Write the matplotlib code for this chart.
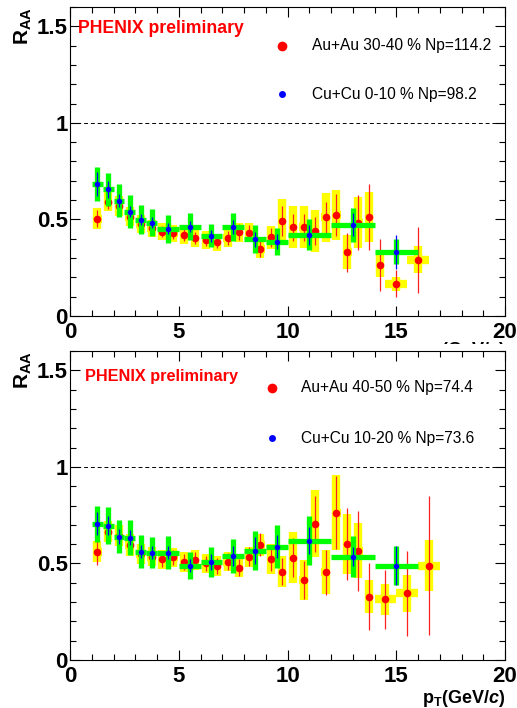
import matplotlib
matplotlib.use('Agg')
import matplotlib.pyplot as plt
from matplotlib.patches import Rectangle
from matplotlib.ticker import MultipleLocator

plt.rcParams['font.family'] = ['Liberation Sans', 'DejaVu Sans']
plt.rcParams['mathtext.fontset'] = 'custom'
plt.rcParams['mathtext.rm'] = 'Liberation Sans'
plt.rcParams['mathtext.it'] = 'Liberation Sans:italic'
plt.rcParams['mathtext.bf'] = 'Liberation Sans:bold'
plt.rcParams['mathtext.bfit'] = 'Liberation Sans:bold:italic'

# ---- top panel : Au+Au 30-40 %  /  Cu+Cu 0-10 %
au_top_x = [1.25, 1.75, 2.25, 2.75, 3.25, 3.75, 4.25, 4.75, 5.25, 5.75, 6.25, 6.75,
            7.25, 7.75, 8.25, 8.75, 9.25, 9.75, 10.25, 10.75, 11.25, 11.75, 12.25,
            12.75, 13.25, 13.75, 14.25, 15.0, 16.0]
au_top_xerr = [0.2] * 27 + [0.5, 0.5]
au_top_y = [0.504, 0.592, 0.570, 0.515, 0.477, 0.454, 0.437, 0.428, 0.420, 0.403, 0.394, 0.382,
            0.403, 0.434, 0.432, 0.347, 0.408, 0.492, 0.460, 0.460, 0.440, 0.510, 0.522,
            0.330, 0.484, 0.513, 0.263, 0.166, 0.290]
au_top_sys = [0.055, 0.05, 0.05, 0.05, 0.045, 0.045, 0.045, 0.045, 0.045, 0.045, 0.045, 0.045,
              0.045, 0.05, 0.05, 0.048, 0.06, 0.115, 0.11, 0.11, 0.108, 0.127, 0.13,
              0.088, 0.13, 0.13, 0.06, 0.036, 0.07]
au_top_stat = [0.045, 0.04, 0.035, 0.035, 0.03, 0.03, 0.03, 0.03, 0.03, 0.03, 0.03, 0.03,
               0.035, 0.04, 0.04, 0.04, 0.05, 0.08, 0.07, 0.07, 0.07, 0.08, 0.11,
               0.10, 0.14, 0.17, 0.135, 0.07, 0.17]

cu_top_x = [1.25, 1.75, 2.25, 2.75, 3.25, 3.75, 4.5, 5.5, 6.5, 7.5, 8.5, 9.5, 11.0, 13.0, 15.0]
cu_top_xerr = [0.25] * 6 + [0.5] * 6 + [1.0] * 3
cu_top_y = [0.682, 0.656, 0.597, 0.540, 0.499, 0.484, 0.452, 0.463, 0.415, 0.461, 0.397,
            0.385, 0.420, 0.472, 0.332]
cu_top_sys = [0.087, 0.085, 0.085, 0.084, 0.074, 0.072, 0.072, 0.069, 0.06, 0.071, 0.073,
              0.069, 0.08, 0.089, 0.065]
cu_top_stat = [0.062, 0.045, 0.035, 0.03, 0.03, 0.03, 0.03, 0.03, 0.03, 0.035, 0.04,
               0.04, 0.05, 0.06, 0.088]

# ---- bottom panel : Au+Au 40-50 %  /  Cu+Cu 10-20 %
au_bot_x = [1.25, 1.75, 2.25, 2.75, 3.25, 3.75, 4.25, 4.75, 5.25, 5.75, 6.25, 6.75,
            7.25, 7.75, 8.25, 8.75, 9.25, 9.75, 10.25, 10.75, 11.25, 11.75, 12.25,
            12.75, 13.25, 13.75, 14.5, 15.5, 16.5]
au_bot_xerr = [0.2] * 26 + [0.5, 0.5, 0.5]
au_bot_y = [0.561, 0.665, 0.643, 0.596, 0.549, 0.535, 0.522, 0.532, 0.508, 0.518, 0.501, 0.487,
            0.509, 0.478, 0.535, 0.596, 0.523, 0.458, 0.530, 0.415, 0.705, 0.454, 0.763,
            0.601, 0.566, 0.328, 0.314, 0.345, 0.489]
au_bot_sys = [0.056, 0.055, 0.055, 0.055, 0.05, 0.05, 0.05, 0.05, 0.05, 0.05, 0.05, 0.05,
              0.05, 0.05, 0.052, 0.055, 0.078, 0.078, 0.132, 0.104, 0.174, 0.114, 0.194,
              0.155, 0.142, 0.086, 0.082, 0.095, 0.13]
au_bot_stat = [0.07, 0.05, 0.045, 0.045, 0.04, 0.04, 0.04, 0.04, 0.04, 0.04, 0.04, 0.04,
               0.045, 0.045, 0.05, 0.06, 0.06, 0.07, 0.10, 0.097, 0.144, 0.117, 0.19,
               0.186, 0.207, 0.174, 0.154, 0.22, 0.36]

cu_bot_x = [1.25, 1.75, 2.25, 2.75, 3.25, 3.75, 4.5, 5.5, 6.5, 7.5, 8.5, 9.5, 11.0, 13.0, 15.0]
cu_bot_xerr = [0.25] * 6 + [0.5] * 6 + [1.0] * 3
cu_bot_y = [0.705, 0.696, 0.639, 0.634, 0.561, 0.556, 0.556, 0.489, 0.508, 0.539, 0.566,
            0.587, 0.618, 0.535, 0.489]
cu_bot_sys = [0.095, 0.097, 0.086, 0.09, 0.084, 0.082, 0.086, 0.072, 0.078, 0.086, 0.10,
              0.11, 0.127, 0.105, 0.099]
cu_bot_stat = [0.06, 0.05, 0.04, 0.04, 0.035, 0.035, 0.035, 0.035, 0.04, 0.05, 0.07,
               0.06, 0.07, 0.05, 0.10]

labels_top = ['Au+Au 30-40 % Np=114.2', 'Cu+Cu 0-10 % Np=98.2']
labels_bot = ['Au+Au 40-50 % Np=74.4', 'Cu+Cu 10-20 % Np=73.6']


def panel(ax, au, cu, labels, leg_pos, phenix_pos, phenix_size, xlab_y):
    ax_, axe, ay, asys, astat = au
    cx, cxe, cy, csys, cstat = cu
    # systematics (yellow), Au+Au points, then Cu+Cu on top
    ax.errorbar(ax_, ay, xerr=axe, yerr=asys, fmt='none', ecolor='#ffff00',
                elinewidth=6, zorder=2)
    ax.errorbar(ax_, ay, yerr=astat, fmt='o', color='#ff0000', ms=5.5, mew=0,
                elinewidth=0.9, ecolor='#ff2020', zorder=3)
    ax.errorbar(cx, cy, xerr=cxe, yerr=csys, fmt='none', ecolor='#00ff00',
                elinewidth=3.8, zorder=4)
    ax.errorbar(cx, cy, yerr=cstat, fmt='o', color='#0000ff', ms=4, mew=0,
                elinewidth=0.9, zorder=5)

    ax.axhline(1.0, color='black', lw=0.7, ls=(0, (4, 3)), zorder=1)

    ax.set_xlim(0, 20)
    ax.set_ylim(0, 1.6)
    ax.xaxis.set_major_locator(MultipleLocator(5))
    ax.xaxis.set_minor_locator(MultipleLocator(1))
    ax.yaxis.set_major_locator(MultipleLocator(0.5))
    ax.yaxis.set_minor_locator(MultipleLocator(0.1))
    ax.set_xticks([0, 5, 10, 15, 20])
    ax.set_xticklabels(['0', '5', '10', '15', '20'])
    ax.set_yticks([0, 0.5, 1.0, 1.5])
    ax.set_yticklabels(['0', '0.5', '1', '1.5'])
    ax.tick_params(which='both', direction='in', top=True, right=True, width=0.8)
    ax.tick_params(which='major', length=7, labelsize=16)
    ax.tick_params(which='minor', length=4)
    ax.tick_params(axis='x', pad=4)
    ax.tick_params(axis='y', pad=1.5)
    for lab in ax.get_xticklabels() + ax.get_yticklabels():
        lab.set_fontweight('bold')
    for s in ax.spines.values():
        s.set_linewidth(0.8)

    ax.text(-0.108, 1.0, r'$\mathbf{R_{AA}}$', transform=ax.transAxes, rotation=90,
            ha='center', va='top', fontsize=15)
    ax.text(1.0, xlab_y, r'$\mathbf{p_{T}(GeV/}\mathbfit{c}\mathbf{)}$',
            transform=ax.transAxes, ha='right', va='top', fontsize=13)

    ax.text(phenix_pos[0], phenix_pos[1], 'PHENIX preliminary', transform=ax.transAxes,
            color='#ff0000', fontweight='bold', fontsize=phenix_size, va='center', ha='left')

    mx, tx, y1, y2 = leg_pos
    ax.plot([mx], [y1], 'o', color='#ff0000', ms=7, mew=0, transform=ax.transAxes,
            clip_on=False)
    ax.plot([mx], [y2], 'o', color='#0000ff', ms=5, mew=0, transform=ax.transAxes,
            clip_on=False)
    ax.text(tx, y1, labels[0], transform=ax.transAxes, fontsize=11.2, va='center')
    ax.text(tx, y2, labels[1], transform=ax.transAxes, fontsize=11.2, va='center')


fig = plt.figure(figsize=(5.17, 7.08), dpi=100)
ax1 = fig.add_axes([0.1354, 0.5537, 0.8414, 0.4364], zorder=0)
ax2 = fig.add_axes([0.1354, 0.0678, 0.8414, 0.4364], zorder=2)

panel(ax1, (au_top_x, au_top_xerr, au_top_y, au_top_sys, au_top_stat),
      (cu_top_x, cu_top_xerr, cu_top_y, cu_top_sys, cu_top_stat),
      labels_top, (0.487, 0.556, 0.874, 0.718), (0.018, 0.929), 12.7, -0.078)
panel(ax2, (au_bot_x, au_bot_xerr, au_bot_y, au_bot_sys, au_bot_stat),
      (cu_bot_x, cu_bot_xerr, cu_bot_y, cu_bot_sys, cu_bot_stat),
      labels_bot, (0.464, 0.531, 0.881, 0.718), (0.0345, 0.919), 11.7, -0.09)

# lower pad hides most of the upper x title, like in the original canvas
fig.add_artist(Rectangle((0, 0), 1, 0.514, transform=fig.transFigure,
                         facecolor='white', edgecolor='none', zorder=1))

fig.savefig('out.png', dpi=100)
